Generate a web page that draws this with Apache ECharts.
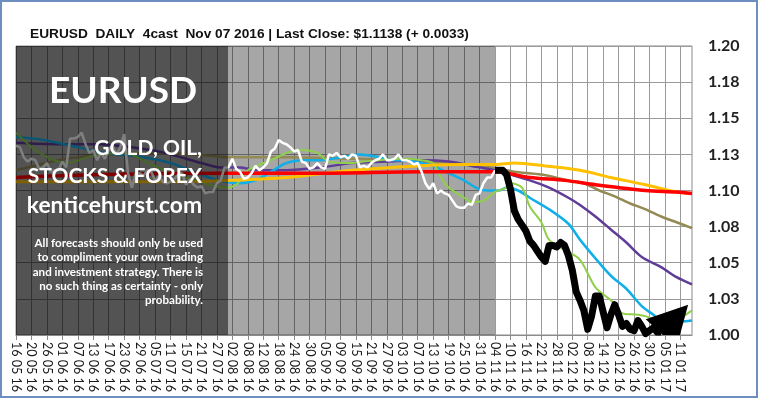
<!DOCTYPE html>
<html>
<head>
<meta charset="utf-8">
<script src="https://cdn.jsdelivr.net/npm/echarts@6/dist/echarts.min.js"></script>
<style>
  html, body { margin: 0; padding: 0; background: #fff; }
  #chart { width: 760px; height: 398px; }
</style>
</head>
<body>
<div id="chart"></div>
<script>
// one category per weekday, starting 16 May 2016
var startDay = '2016-05-16';
var dayCount = 176;
var lastHistIndex = 124; // 04 11 16, last close

var yTicks = ['1.00', '1.03', '1.05', '1.08', '1.10', '1.13', '1.15', '1.18', '1.20'];

// white line: daily closes, index 0..124
var histClose = [
  1.131, 1.130, 1.123, 1.120, 1.122, 1.121, 1.115, 1.116, 1.119, 1.113,
  1.114, 1.114, 1.120, 1.116, 1.136, 1.136, 1.137, 1.140, 1.132, 1.126,
  1.128, 1.121, 1.126, 1.122, 1.128, 1.131, 1.125, 1.130, 1.139, 1.112,
  1.102, 1.112, 1.112, 1.110, 1.114, 1.113, 1.107, 1.110, 1.106, 1.105,
  1.106, 1.108, 1.111, 1.112, 1.104, 1.108, 1.104, 1.102, 1.103, 1.098,
  1.099, 1.099, 1.105, 1.107, 1.116, 1.116, 1.122, 1.115, 1.113, 1.108,
  1.109, 1.112, 1.117, 1.114, 1.116, 1.119, 1.127, 1.129, 1.135, 1.133,
  1.132, 1.130, 1.127, 1.128, 1.120, 1.119, 1.115, 1.116, 1.119, 1.116,
  1.115, 1.125, 1.124, 1.126, 1.123, 1.124, 1.122, 1.125, 1.124, 1.116,
  1.117, 1.116, 1.119, 1.121, 1.122, 1.125, 1.121, 1.121, 1.122, 1.125,
  1.121, 1.121, 1.120, 1.118, 1.119, 1.113, 1.105, 1.101, 1.105, 1.098,
  1.100, 1.098, 1.097, 1.093, 1.089, 1.088, 1.088, 1.091, 1.090, 1.097,
  1.098, 1.105, 1.109, 1.109, 1.114
];

// black 4cast line [dayIndex, value]
var forecast = [
  [124, 1.114], [126, 1.114], [127, 1.111], [128, 1.101], [129, 1.086], [130, 1.080],
  [131, 1.076], [132, 1.072], [133, 1.065], [134, 1.062], [135, 1.058], [136, 1.054],
  [137, 1.051], [138, 1.062], [139, 1.062], [140, 1.061], [141, 1.064], [142, 1.062],
  [143, 1.055], [144, 1.045], [145, 1.030], [146, 1.024], [147, 1.017], [148, 1.004],
  [149, 1.013], [150, 1.027], [151, 1.027], [152, 1.016], [153, 1.005], [154, 1.014],
  [155, 1.021], [156, 1.014], [157, 1.006], [158, 1.008], [159, 1.004], [160, 1.003],
  [161, 1.010], [162, 1.006], [163, 1.001], [164, 1.003], [165, 1.005], [166, 1.002],
  [167, 1.002]
];
// arrow head at the end of the 4cast: [baseIndex, baseValue, tipIndex, tipValue]
var arrowHead = [[166.5, 1.001, 174, 1.021]];

var lineBlue = [
  [0, 1.137], [7, 1.135], [16, 1.130], [23, 1.126], [33, 1.123], [40, 1.119], [45, 1.114],
  [50, 1.109], [54, 1.106], [58, 1.105], [62, 1.107], [66, 1.113], [70, 1.119], [74, 1.121],
  [79, 1.121], [84, 1.123], [89, 1.125], [94, 1.123], [98, 1.121], [101, 1.121], [105, 1.119],
  [108, 1.117], [112, 1.112], [116, 1.107], [119, 1.102], [122, 1.100], [125, 1.100],
  [127, 1.102], [130, 1.100], [133, 1.095], [138, 1.087], [143, 1.077], [146, 1.066],
  [150, 1.053], [154, 1.041], [158, 1.032], [162, 1.020], [165, 1.014], [167, 1.010],
  [170, 1.009], [175, 1.010]
];
var lineGreen = [
  [0, 1.140], [5, 1.128], [9, 1.122], [13, 1.119], [20, 1.124], [28, 1.126], [35, 1.118],
  [42, 1.110], [47, 1.107], [50, 1.104], [54, 1.102], [57, 1.104], [60, 1.114], [66, 1.121],
  [70, 1.126], [74, 1.128], [78, 1.126], [81, 1.120], [86, 1.119], [90, 1.120], [94, 1.121],
  [100, 1.122], [105, 1.121], [108, 1.119], [110, 1.109], [112, 1.102], [116, 1.095],
  [118, 1.092], [121, 1.093], [124, 1.099], [127, 1.102], [128, 1.105], [131, 1.102],
  [133, 1.089], [136, 1.078], [138, 1.066], [142, 1.059], [146, 1.052], [150, 1.033],
  [154, 1.024], [157, 1.015], [161, 1.014], [164, 1.012], [167, 1.006], [171, 1.010],
  [175, 1.017]
];
var linePurple = [
  [0, 1.133], [11, 1.132], [20, 1.132], [35, 1.128], [44, 1.122], [48, 1.119], [53, 1.116],
  [58, 1.116], [62, 1.114], [70, 1.114], [79, 1.116], [87, 1.119], [96, 1.120], [105, 1.121],
  [112, 1.120], [120, 1.116], [124, 1.114], [133, 1.107], [138, 1.102], [143, 1.095],
  [146, 1.090], [150, 1.082], [154, 1.073], [158, 1.064], [162, 1.054], [167, 1.047],
  [171, 1.040], [175, 1.035]
];
var lineOlive = [
  [0, 1.114], [13, 1.122], [25, 1.125], [37, 1.126], [50, 1.124], [55, 1.123], [70, 1.123],
  [87, 1.122], [100, 1.121], [112, 1.119], [120, 1.117], [125, 1.115], [129, 1.113],
  [136, 1.111], [143, 1.107], [147, 1.105], [151, 1.100], [155, 1.096], [159, 1.091],
  [163, 1.087], [167, 1.082], [171, 1.078], [175, 1.074]
];
var lineYellow = [
  [0, 1.106], [20, 1.106], [40, 1.106], [55, 1.107], [70, 1.109], [87, 1.114], [104, 1.117],
  [115, 1.118], [124, 1.118], [129, 1.119], [137, 1.117], [146, 1.114], [154, 1.109],
  [163, 1.104], [171, 1.099], [175, 1.098]
];
var lineRed = [
  [0, 1.109], [22, 1.111], [55, 1.112], [79, 1.112], [105, 1.113], [124, 1.113], [133, 1.109],
  [142, 1.107], [150, 1.104], [163, 1.100], [171, 1.099], [175, 1.098]
];

var boxLines = [
  'All forecasts should only be used',
  'to compliment your own trading',
  'and investment strategy. There is',
  'no such thing as certainty - only',
  'probability.'
];

function tradingDays(start, n) {
  var out = [];
  var d = new Date(start + 'T00:00:00Z');
  while (out.length < n) {
    var w = d.getUTCDay();
    if (w !== 0 && w !== 6) {
      var dd = ('0' + d.getUTCDate()).slice(-2);
      var mm = ('0' + (d.getUTCMonth() + 1)).slice(-2);
      var yy = String(d.getUTCFullYear()).slice(-2);
      out.push(dd + ' ' + mm + ' ' + yy);
    }
    d.setUTCDate(d.getUTCDate() + 1);
  }
  return out;
}

var days = tradingDays(startDay, dayCount);
var boxFont = 'bold {s}px Lato, "Open Sans", sans-serif';
function font(s) { return boxFont.replace('{s}', s); }

function maLine(name, data, color, width) {
  return {
    name: name,
    type: 'line',
    data: data,
    symbol: 'none',
    smooth: 0.3,
    lineStyle: { color: color, width: width },
    z: 2
  };
}

var chart = echarts.init(document.getElementById('chart'), null, { renderer: 'canvas' });

var textEls = [
  { type: 'text', z: 101, style: { text: 'EURUSD', x: 123, y: 91, font: font(37), fill: '#fff', align: 'center', verticalAlign: 'middle' } },
  { type: 'text', z: 101, style: { text: 'GOLD, OIL,', x: 202, y: 148, font: font(21), fill: '#fff', align: 'right', verticalAlign: 'middle' } },
  { type: 'text', z: 101, style: { text: 'STOCKS & FOREX', x: 202, y: 176, font: font(21), fill: '#fff', align: 'right', verticalAlign: 'middle' } },
  { type: 'text', z: 101, style: { text: 'kenticehurst.com', x: 202, y: 206, font: font(22.8), fill: '#fff', align: 'right', verticalAlign: 'middle' } }
];
boxLines.forEach(function (t, i) {
  textEls.push({
    type: 'text', z: 101,
    style: { text: t, x: 203, y: 243 + i * 14.4, font: font(11.6), fill: '#fff', align: 'right', verticalAlign: 'middle' }
  });
});

chart.setOption({
  animation: false,
  backgroundColor: '#fff',
  title: {
    text: 'EURUSD  DAILY  4cast  Nov 07 2016 | Last Close: $1.1138 (+ 0.0033)',
    left: 25,
    top: 22,
    textStyle: { fontFamily: '"Liberation Sans", Arial, sans-serif', fontWeight: 'bold', fontSize: 13.7, color: '#111' }
  },
  grid: {
    left: 16, right: 68, top: 46, bottom: 63,
    show: true, borderColor: '#8a8a8a', borderWidth: 1,
    outerBoundsMode: 'none'
  },
  xAxis: {
    type: 'category',
    data: days,
    boundaryGap: false,
    axisLine: { show: true, lineStyle: { color: '#8a8a8a' } },
    axisTick: { show: true, interval: 3, length: 5, lineStyle: { color: '#8a8a8a' } },
    axisLabel: {
      interval: 3, rotate: -90, margin: 7,
      fontFamily: 'Lato, "Open Sans", sans-serif', fontSize: 12.5, color: '#1a1a1a'
    },
    splitLine: { show: true, interval: 3, lineStyle: { color: '#9a9a9a', width: 1 } }
  },
  yAxis: {
    type: 'value',
    position: 'right',
    min: 1.0, max: 1.2, interval: 0.025,
    axisLine: { show: false },
    axisTick: { show: false },
    axisLabel: {
      margin: 16,
      fontFamily: 'Lato, "Open Sans", sans-serif', fontSize: 16, fontWeight: 'bold', color: '#222',
      formatter: function (v) { return yTicks[Math.round((v - 1.0) / 0.025)]; }
    },
    splitLine: { show: true, lineStyle: { color: '#9a9a9a', width: 1 } }
  },
  series: [
    maLine('olive', lineOlive, '#948a54', 2.5),
    maLine('purple', linePurple, '#5f3c97', 2.5),
    maLine('blue', lineBlue, '#12aee8', 2.5),
    maLine('green', lineGreen, '#8fcf4a', 2),
    maLine('yellow', lineYellow, '#ffc000', 3),
    maLine('red', lineRed, '#ff0000', 3.5),
    {
      name: 'close',
      type: 'line',
      data: histClose,
      symbol: 'none',
      lineStyle: { color: '#fff', width: 2.5 },
      z: 3,
      markArea: {
        silent: true,
        itemStyle: { color: 'rgba(0,0,0,0.35)' },
        data: [[{ xAxis: days[0] }, { xAxis: days[lastHistIndex] }]]
      }
    },
    {
      name: '4cast',
      type: 'line',
      data: forecast,
      symbol: 'none',
      lineStyle: { color: '#000', width: 7, join: 'round' },
      z: 4
    },
    {
      name: 'arrow',
      type: 'custom',
      clip: true,
      data: arrowHead,
      z: 4,
      renderItem: function (params, api) {
        var b = api.coord([api.value(0), api.value(1)]);
        var t = api.coord([api.value(2), api.value(3)]);
        var dx = t[0] - b[0], dy = t[1] - b[1];
        var len = Math.sqrt(dx * dx + dy * dy);
        var nx = -dy / len * 21, ny = dx / len * 21;
        return {
          type: 'polygon',
          shape: { points: [t, [b[0] + nx, b[1] + ny], [b[0] - nx, b[1] - ny]] },
          style: { fill: '#000' }
        };
      }
    }
  ],
  graphic: [
    {
      type: 'rect', z: 100, silent: true,
      shape: { x: 16, y: 46, width: 212, height: 289 },
      style: { fill: 'rgba(0,0,0,0.5)' }
    },
    {
      type: 'rect', z: 100, silent: true,
      shape: { x: 1, y: 1, width: 756, height: 396 },
      style: { fill: 'none', stroke: '#6d8ebf', lineWidth: 2 }
    }
  ].concat(textEls)
});
</script>
</body>
</html>
